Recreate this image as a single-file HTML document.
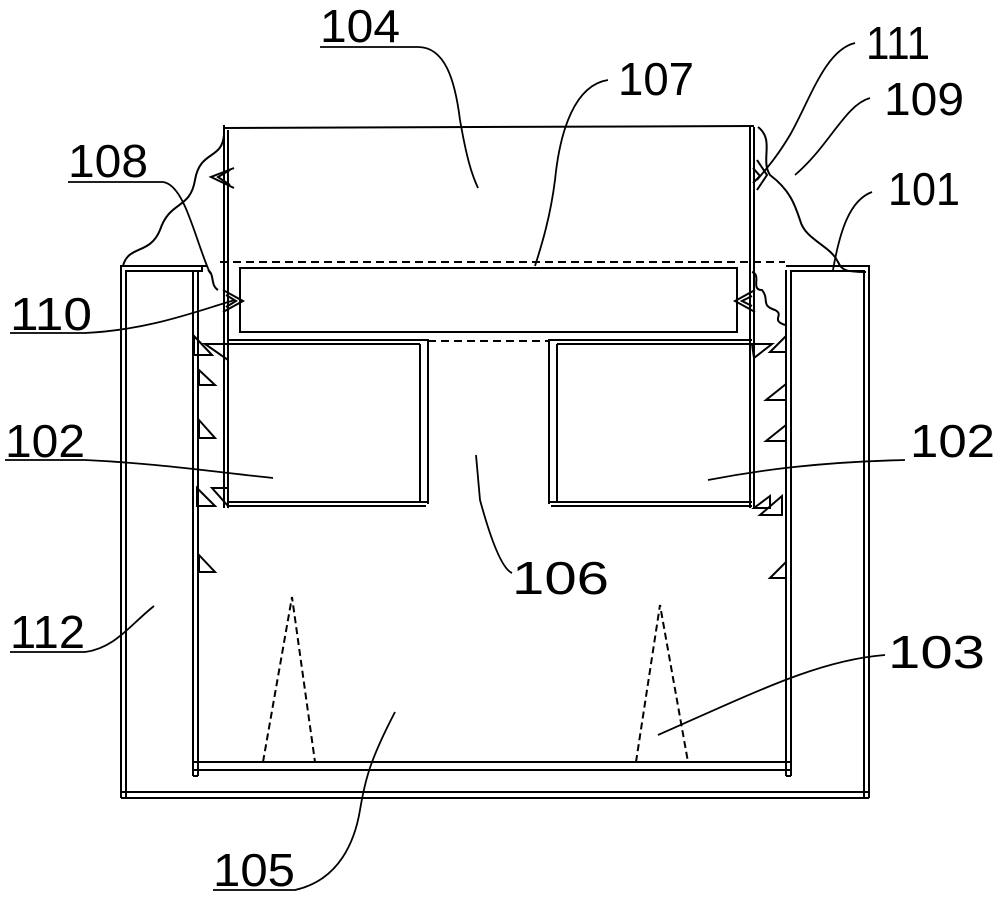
<!DOCTYPE html>
<html><head><meta charset="utf-8"><style>
html,body{margin:0;padding:0;background:#fff}
svg{display:block}
text{font-family:"Liberation Sans Narrow","Liberation Sans",sans-serif;font-size:46px;fill:#000}
</style></head><body>
<svg width="1000" height="898" viewBox="0 0 1000 898" xmlns="http://www.w3.org/2000/svg">
<g fill="none" stroke="#000" stroke-width="2">
<polyline points="121,798 121,266 207,266"/>
<polyline points="126,798 126,271 202,271"/>
<polyline points="869,798 869,266 786,266"/>
<polyline points="864,798 864,271 791,271"/>
<line x1="121" y1="792" x2="869" y2="792"/>
<line x1="121" y1="798" x2="869" y2="798"/>
<line x1="193" y1="270" x2="193" y2="776"/>
<line x1="198" y1="270" x2="198" y2="776"/>
<line x1="786" y1="270" x2="786" y2="776"/>
<line x1="791" y1="270" x2="791" y2="776"/>
<line x1="202" y1="266" x2="202" y2="272"/>
<line x1="193" y1="762" x2="791" y2="762"/>
<line x1="193" y1="770" x2="791" y2="770"/>
<line x1="193" y1="776" x2="198" y2="776"/>
<line x1="786" y1="776" x2="791" y2="776"/>
<line x1="224" y1="128" x2="754" y2="126"/>
<line x1="224" y1="125" x2="224" y2="508"/>
<line x1="228" y1="130" x2="228" y2="508"/>
<line x1="750" y1="127" x2="750" y2="508"/>
<line x1="754" y1="127" x2="754" y2="508"/>
<line x1="220" y1="262" x2="785" y2="262" stroke-dasharray="8,5"/>
<rect x="240" y="268" width="497" height="64"/>
<polyline points="228,340 428,340 428,504"/>
<line x1="228" y1="344" x2="420" y2="344"/>
<line x1="420" y1="344" x2="420" y2="502"/>
<line x1="228" y1="502" x2="428" y2="502"/>
<line x1="228" y1="506" x2="426" y2="506"/>
<polyline points="752,340 549,340 549,504"/>
<line x1="752" y1="344" x2="557" y2="344"/>
<line x1="557" y1="344" x2="557" y2="502"/>
<line x1="752" y1="502" x2="549" y2="502"/>
<line x1="752" y1="506" x2="551" y2="506"/>
<line x1="428" y1="341" x2="549" y2="341" stroke-dasharray="8,5"/>
<g stroke-dasharray="7,4">
<polyline points="263,762 292,597 315,762"/>
<line x1="263" y1="762" x2="315" y2="762"/>
<polyline points="636,762 660,605 688,762"/>
<line x1="636" y1="762" x2="688" y2="762"/>
</g>
<polygon points="194,336 212,355 194,355"/>
<polygon points="205,344 228,344 228,360"/>
<polygon points="199,370 215,385 199,385"/>
<polygon points="199,420 215,438 199,438"/>
<polygon points="197,488 215,506 197,506"/>
<polygon points="212,488 228,488 228,506"/>
<polygon points="199,555 215,572 199,572"/>
<polygon points="786,336 770,352 786,352"/>
<polygon points="752,344 772,344 754,358"/>
<polygon points="786,384 766,400 786,400"/>
<polygon points="786,425 766,441 786,441"/>
<polygon points="782,496 760,515 782,515"/>
<polygon points="770,496 754,508 770,508"/>
<polygon points="786,562 770,578 786,578"/>
<polyline points="234,168 211,177 234,188"/>
<polyline points="230,170 218,177 230,185"/>
<polyline points="223,290 243,301 223,312"/>
<polyline points="226,295 236,301 226,307"/>
<polyline points="757,160 767,175 757,190"/>
<polyline points="753,168 760,176 753,183"/>
<polyline points="755,290 735,301 755,312"/>
<polyline points="752,296 742,301 752,306"/>
<path d="M224,135 C222,160 200,150 195,180 C190,210 170,200 160,230 C150,255 128,245 123,266"/>
<path d="M758,127 C775,140 760,160 770,175 C790,190 795,205 800,220 C805,240 830,245 838,262 C842,270 845,272 866,272"/>
<path d="M208,270 C215,275 210,285 218,290" />
<path d="M752,272 C762,275 750,290 762,290 C770,300 760,305 775,310 C785,315 770,320 785,325"/>
</g>
<g fill="none" stroke="#000" stroke-width="1.8">
<path d="M320,47 L418,47 C445,47 455,80 460,120 C467,160 472,175 478,188"/>
<path d="M608,80 C575,85 560,130 555,180 C550,220 540,250 535,266"/>
<path d="M855,43 C825,50 810,100 790,135 C775,160 765,170 757,180"/>
<path d="M870,98 C845,105 830,145 795,175"/>
<path d="M872,192 C850,200 840,230 833,270"/>
<path d="M68,182 L163,182 C185,185 195,240 210,273"/>
<path d="M10,333 L85,333 C150,330 200,310 235,300"/>
<path d="M5,460 L85,460 C150,463 200,470 273,478"/>
<path d="M905,460 C820,462 760,470 708,480"/>
<path d="M512,573 C505,570 495,555 480,500 L476,455"/>
<path d="M10,652 L85,652 C115,648 130,625 154,606"/>
<path d="M885,655 C820,660 760,690 658,735"/>
<path d="M213,890 L295,890 C340,880 355,840 360,810 C365,780 370,760 395,712" />
</g>
<g>
<text x="320" y="42" textLength="80" lengthAdjust="spacingAndGlyphs">104</text>
<text x="618" y="95" textLength="76" lengthAdjust="spacingAndGlyphs">107</text>
<text x="866" y="59" textLength="64" lengthAdjust="spacingAndGlyphs">111</text>
<text x="884" y="115" textLength="80" lengthAdjust="spacingAndGlyphs">109</text>
<text x="888" y="205" textLength="72" lengthAdjust="spacingAndGlyphs">101</text>
<text x="68" y="177" textLength="80" lengthAdjust="spacingAndGlyphs">108</text>
<text x="10" y="330" textLength="82" lengthAdjust="spacingAndGlyphs">110</text>
<text x="5" y="457" textLength="80" lengthAdjust="spacingAndGlyphs">102</text>
<text x="910" y="457" textLength="85" lengthAdjust="spacingAndGlyphs">102</text>
<text x="512" y="594" textLength="97" lengthAdjust="spacingAndGlyphs">106</text>
<text x="10" y="648" textLength="75" lengthAdjust="spacingAndGlyphs">112</text>
<text x="888" y="668" textLength="97" lengthAdjust="spacingAndGlyphs">103</text>
<text x="213" y="886" textLength="82" lengthAdjust="spacingAndGlyphs">105</text>
</g>
</svg>
</body></html>
